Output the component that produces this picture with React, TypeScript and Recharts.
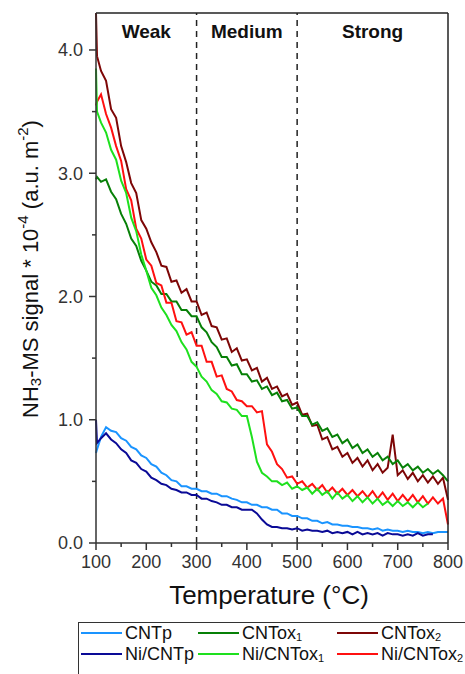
import React from 'react';
import { LineChart, Line, XAxis, YAxis, ReferenceLine, ReferenceArea } from 'recharts';

// temperature grid (°C)
const temps = [
  100, 102, 110, 120, 130, 140, 150, 160, 170, 180,
  190, 200, 210, 220, 230, 240, 250, 260, 270, 280,
  290, 300, 310, 320, 330, 340, 350, 360, 370, 380,
  390, 400, 410, 420, 430, 440, 450, 460, 470, 480,
  490, 500, 510, 520, 530, 540, 550, 560, 570, 580,
  590, 600, 610, 620, 630, 640, 650, 660, 670, 680,
  690, 700, 710, 720, 730, 740, 750, 760, 770, 780,
  790, 800,
];

const cntp = [
  0.73, 0.76, 0.86, 0.94, 0.91, 0.90, 0.85, 0.83, 0.78, 0.76,
  0.71, 0.69, 0.64, 0.62, 0.57, 0.55, 0.51, 0.50, 0.46, 0.46,
  0.44, 0.44, 0.42, 0.42, 0.40, 0.40, 0.38, 0.38, 0.36, 0.35,
  0.33, 0.33, 0.31, 0.31, 0.29, 0.29, 0.27, 0.27, 0.24, 0.24,
  0.22, 0.22, 0.20, 0.20, 0.18, 0.18, 0.16, 0.17, 0.15, 0.15,
  0.14, 0.14, 0.13, 0.13, 0.12, 0.12, 0.11, 0.12, 0.10, 0.11,
  0.10, 0.10, 0.09, 0.10, 0.09, 0.09, 0.08, 0.09, 0.08, 0.09,
  0.09, 0.09,
];

const niCntp = [
  1.00, 0.81, 0.85, 0.89, 0.84, 0.81, 0.76, 0.73, 0.67, 0.65,
  0.60, 0.58, 0.53, 0.51, 0.48, 0.47, 0.44, 0.43, 0.41, 0.41,
  0.39, 0.39, 0.36, 0.36, 0.34, 0.33, 0.31, 0.31, 0.29, 0.29,
  0.27, 0.27, 0.27, 0.24, 0.19, 0.15, 0.13, 0.13, 0.12, 0.12,
  0.11, 0.12, 0.10, 0.11, 0.10, 0.10, 0.09, 0.10, 0.08, 0.09,
  0.08, 0.09, 0.07, 0.09, 0.07, 0.08, 0.07, 0.08, 0.06, 0.08,
  0.07, 0.07, 0.06, 0.07, 0.06, 0.08, 0.06, 0.07, 0.07, null,
  null, null,
];

const cntox1 = [
  2.95, 2.97, 2.93, 2.95, 2.85, 2.79, 2.67, 2.59, 2.47, 2.41,
  2.29, 2.21, 2.12, 2.09, 2.02, 2.02, 1.96, 1.96, 1.89, 1.89,
  1.84, 1.84, 1.75, 1.71, 1.63, 1.59, 1.51, 1.51, 1.44, 1.45,
  1.37, 1.37, 1.31, 1.32, 1.25, 1.27, 1.20, 1.22, 1.15, 1.16,
  1.09, 1.10, 1.03, 1.03, 0.96, 0.98, 0.91, 0.93, 0.86, 0.88,
  0.81, 0.84, 0.77, 0.80, 0.73, 0.76, 0.70, 0.73, 0.67, 0.70,
  0.64, 0.67, 0.61, 0.64, 0.59, 0.62, 0.57, 0.60, 0.56, 0.59,
  0.55, 0.50,
];

const niCntox1 = [
  3.85, 3.50, 3.41, 3.33, 3.19, 3.11, 2.94, 2.84, 2.64, 2.53,
  2.34, 2.21, 2.07, 2.01, 1.91, 1.85, 1.77, 1.72, 1.63, 1.57,
  1.47, 1.43, 1.35, 1.31, 1.24, 1.21, 1.15, 1.14, 1.09, 1.08,
  1.03, 1.03, 0.86, 0.66, 0.57, 0.54, 0.50, 0.50, 0.47, 0.49,
  0.44, 0.46, 0.43, 0.45, 0.40, 0.44, 0.39, 0.42, 0.36, 0.41,
  0.36, 0.39, 0.34, 0.38, 0.33, 0.37, 0.32, 0.36, 0.31, 0.34,
  0.30, 0.34, 0.30, 0.33, 0.29, 0.33, 0.29, 0.32, null, null,
  null, null,
];

const cntox2 = [
  4.30, 3.95, 3.83, 3.75, 3.52, 3.45, 3.22, 3.09, 2.92, 2.84,
  2.62, 2.55, 2.44, 2.36, 2.25, 2.24, 2.12, 2.13, 2.03, 2.06,
  1.96, 1.96, 1.85, 1.87, 1.76, 1.75, 1.65, 1.66, 1.55, 1.58,
  1.48, 1.49, 1.40, 1.42, 1.31, 1.34, 1.25, 1.27, 1.19, 1.21,
  1.12, 1.14, 1.04, 1.05, 0.95, 0.96, 0.84, 0.86, 0.76, 0.78,
  0.70, 0.73, 0.65, 0.69, 0.62, 0.67, 0.59, 0.64, 0.57, 0.61,
  0.88, 0.55, 0.59, 0.52, 0.57, 0.50, 0.55, 0.49, 0.54, 0.48,
  0.53, 0.35,
];

const niCntox2 = [
  3.55, 3.58, 3.64, 3.48, 3.37, 3.22, 3.10, 2.87, 2.78, 2.55,
  2.47, 2.30, 2.25, 2.11, 2.09, 1.95, 1.95, 1.80, 1.79, 1.69,
  1.71, 1.60, 1.60, 1.47, 1.47, 1.35, 1.36, 1.25, 1.23, 1.16,
  1.15, 1.11, 1.11, 1.06, 1.07, 0.80, 0.74, 0.64, 0.60, 0.53,
  0.54, 0.48, 0.50, 0.45, 0.48, 0.43, 0.47, 0.41, 0.45, 0.40,
  0.44, 0.39, 0.43, 0.38, 0.42, 0.37, 0.42, 0.36, 0.41, 0.35,
  0.40, 0.34, 0.39, 0.34, 0.39, 0.33, 0.38, 0.32, 0.37, 0.32,
  0.36, 0.15,
];

const xTicks = [100, 150, 200, 250, 300, 350, 400, 450, 500, 550, 600, 650, 700, 750, 800];
const yTicks = [0, 0.5, 1, 1.5, 2, 2.5, 3, 3.5, 4];

// legend order: rows of three
const series = [
  { key: 'cntp', label: 'CNTp', sub: '', color: '#1a94ff', values: cntp },
  { key: 'cntox1', label: 'CNTox', sub: '1', color: '#078007', values: cntox1 },
  { key: 'cntox2', label: 'CNTox', sub: '2', color: '#7d0606', values: cntox2 },
  { key: 'niCntp', label: 'Ni/CNTp', sub: '', color: '#0a0a96', values: niCntp },
  { key: 'niCntox1', label: 'Ni/CNTox', sub: '1', color: '#1ee01e', values: niCntox1 },
  { key: 'niCntox2', label: 'Ni/CNTox', sub: '2', color: '#ff1010', values: niCntox2 },
];

const drawOrder = ['cntox2', 'cntox1', 'niCntox2', 'niCntox1', 'cntp', 'niCntp'];

const data = temps.map((t, i) => {
  const row: Record<string, number | null> = { t };
  series.forEach(s => { row[s.key] = s.values[i]; });
  return row;
});

const FONT = '"Liberation Sans", Arial, sans-serif';
const AXIS = '#333';

const XTick = (props: any) => {
  const { x, y, payload } = props;
  const major = payload.value % 100 === 0;
  return (
    <g>
      <line x1={x} x2={x} y1={y} y2={y + (major ? 7 : 4)} stroke={AXIS} strokeWidth={1.5} />
      {major && (
        <text x={x} y={y + 25} textAnchor="middle" fontSize={18} fill={AXIS} fontFamily={FONT}>
          {payload.value}
        </text>
      )}
    </g>
  );
};

const YTick = (props: any) => {
  const { x, y, payload } = props;
  const major = Math.abs(payload.value - Math.round(payload.value)) < 1e-6;
  return (
    <g>
      <line x1={x} x2={x - (major ? 7 : 4)} y1={y} y2={y} stroke={AXIS} strokeWidth={1.5} />
      {major && (
        <text x={x - 13} y={y} dy="0.35em" textAnchor="end" fontSize={18} fill={AXIS} fontFamily={FONT}>
          {payload.value.toFixed(1)}
        </text>
      )}
    </g>
  );
};

const XLabel = (props: any) => {
  const vb = props.viewBox;
  return (
    <text x={vb.x + vb.width / 2 - 3} y={vb.y + 61} textAnchor="middle" fontSize={26} fill="#111" fontFamily={FONT}>
      Temperature (°C)
    </text>
  );
};

const YLabel = (props: any) => {
  const vb = props.viewBox;
  const cx = 30;
  const cy = vb.y + vb.height / 2 - 9;
  return (
    <text
      x={cx}
      y={cy}
      transform={`rotate(-90, ${cx}, ${cy})`}
      textAnchor="middle"
      dominantBaseline="central"
      fontSize={22}
      fill="#111"
      fontFamily={FONT}
    >
      <tspan>NH</tspan>
      <tspan fontSize={15} dy={5}>3</tspan>
      <tspan dy={-5}>-MS signal * 10</tspan>
      <tspan fontSize={15} dy={-8}>-4</tspan>
      <tspan dy={8}> (a.u. m</tspan>
      <tspan fontSize={15} dy={-8}>-2</tspan>
      <tspan dy={8}>)</tspan>
    </text>
  );
};

const regionLabel = (value: string) => ({
  value,
  position: 'insideTop' as const,
  offset: 12,
  fontSize: 19,
  fontWeight: 'bold',
  fill: '#111',
  fontFamily: FONT,
});

function Legend() {
  const cols = [0, 117, 256];
  return (
    <div
      style={{
        position: 'absolute',
        left: 78,
        top: 622,
        width: 420,
        height: 60,
        border: '1px solid #333',
        fontFamily: FONT,
        fontSize: 18,
        lineHeight: '18px',
        color: '#111',
      }}
    >
      {series.map((s, i) => (
        <div
          key={s.key}
          style={{
            position: 'absolute',
            left: 2 + cols[i % 3],
            top: i < 3 ? 1 : 22,
            height: 18,
            display: 'flex',
            alignItems: 'center',
            whiteSpace: 'nowrap',
          }}
        >
          <span style={{ display: 'inline-block', width: 41, height: 2.5, background: s.color, marginRight: 3 }} />
          <span style={{ lineHeight: '18px' }}>
            {s.label}
            {s.sub && (
              <span style={{ fontSize: 11, lineHeight: 0, position: 'relative', top: 2 }}>{s.sub}</span>
            )}
          </span>
        </div>
      ))}
    </div>
  );
}

export default function App() {
  return (
    <div style={{ position: 'absolute', left: 0, top: 0, width: 465, height: 674, background: '#fff', overflow: 'hidden' }}>
      <LineChart width={465} height={620} data={data} margin={{ top: 13, right: 17, bottom: 0, left: 0 }}>
        <XAxis
          dataKey="t"
          type="number"
          domain={[100, 800]}
          ticks={xTicks}
          interval={0}
          height={77}
          tickSize={0}
          tickMargin={0}
          tickLine={false}
          tick={<XTick />}
          axisLine={{ stroke: AXIS, strokeWidth: 1.5 }}
          label={<XLabel />}
        />
        <YAxis
          type="number"
          domain={[0, 4.3]}
          allowDataOverflow
          ticks={yTicks}
          interval={0}
          width={96}
          tickSize={0}
          tickMargin={0}
          tickLine={false}
          tick={<YTick />}
          axisLine={{ stroke: AXIS, strokeWidth: 1.5 }}
          label={<YLabel />}
        />
        <ReferenceArea x1={100} x2={300} fill="none" stroke="none" label={regionLabel('Weak')} />
        <ReferenceArea x1={300} x2={500} fill="none" stroke="none" label={regionLabel('Medium')} />
        <ReferenceArea x1={500} x2={800} fill="none" stroke="none" label={regionLabel('Strong')} />
        <ReferenceLine x={300} stroke="#222" strokeWidth={1.5} strokeDasharray="6 5" />
        <ReferenceLine x={500} stroke="#222" strokeWidth={1.5} strokeDasharray="6 5" />
        {drawOrder.map(k => {
          const s = series.find(d => d.key === k)!;
          return (
            <Line
              key={k}
              dataKey={k}
              type="linear"
              stroke={s.color}
              strokeWidth={2}
              dot={false}
              connectNulls={false}
              isAnimationActive={false}
            />
          );
        })}
        <ReferenceLine y={4.3} stroke="#222" strokeWidth={1.5} />
        <ReferenceLine x={800} stroke="#222" strokeWidth={1.5} />
      </LineChart>
      <Legend />
    </div>
  );
}
